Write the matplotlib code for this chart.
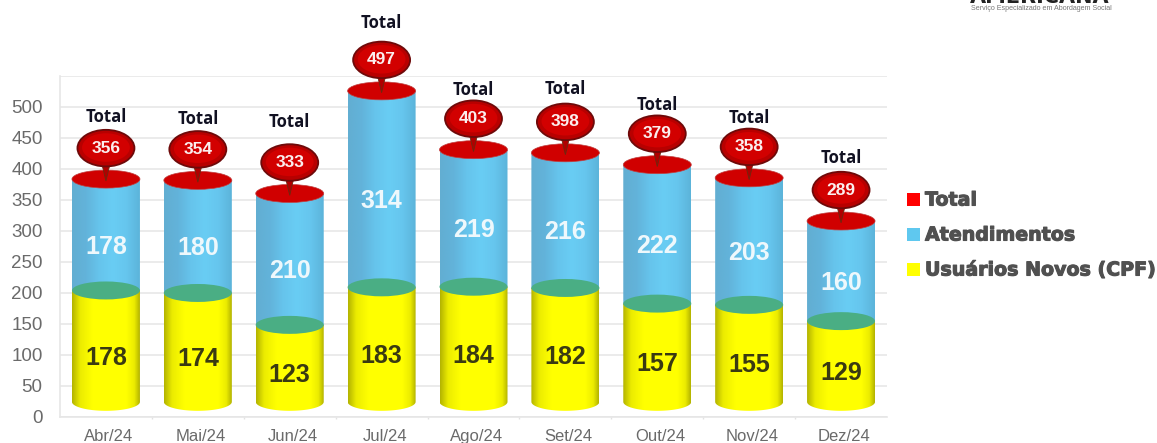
import matplotlib
matplotlib.use('Agg')
import matplotlib.pyplot as plt
import matplotlib.patheffects as pe
import numpy as np
from matplotlib.colors import LinearSegmentedColormap
from matplotlib.patches import Ellipse, Polygon, Rectangle
from matplotlib.transforms import ScaledTranslation

# values
meses = ['Abr/24', 'Mai/24', 'Jun/24', 'Jul/24', 'Ago/24', 'Set/24', 'Out/24', 'Nov/24', 'Dez/24']
usuarios_novos = [178, 174, 123, 183, 184, 182, 157, 155, 129]
atendimentos = [178, 180, 210, 314, 219, 216, 222, 203, 160]
totais = [356, 354, 333, 497, 403, 398, 379, 358, 289]
yticks = list(range(0, 501, 50))

# the 3D chart lifts its cylinders off the floor
base = 24
escala = 1.01
# gap between cylinder top and the word Total, varies in the original
gap_total = [101, 99, 116, 110, 97, 103, 97, 97, 102]

W, H = 1157, 443
fig = plt.figure(figsize=(W / 100, H / 100), dpi=100)
ax = fig.add_axes([60 / W, 1 - 416.7 / H, 827 / W, 340.7 / H])
ax.set_xlim(-0.5, 8.5)
ax.set_ylim(0, 550)
ax.set_facecolor('white')

for s in ['top', 'right']:
    ax.spines[s].set_visible(False)
for s in ['left', 'bottom']:
    ax.spines[s].set_color('#e6e6e6')
    ax.spines[s].set_linewidth(1.2)
ax.set_yticks(yticks + [550])
ax.set_yticklabels([str(v) for v in yticks] + [''])
ax.set_xticks(range(len(meses)))
ax.set_xticklabels(meses)
ax.tick_params(axis='y', length=0, labelsize=13.5, labelcolor='#6a6a6a', pad=12.5)
ax.tick_params(axis='x', length=0, labelsize=12, labelcolor='#6a6a6a', pad=9)
for lab in ax.get_xticklabels() + ax.get_yticklabels():
    lab.set_family('Liberation Sans')
# month labels sit a little right of the cylinders
for lab in ax.get_xticklabels():
    lab.set_transform(lab.get_transform() + ScaledTranslation(3 / 100, 0, fig.dpi_scale_trans))
ax.grid(axis='y', color='#e8e8e8', lw=1.2)
ax.set_axisbelow(True)
ax.vlines(np.arange(0.5, 8), -3, 0, color='#e2e2e2', lw=1, zorder=1, clip_on=False)

cmap_azul = LinearSegmentedColormap.from_list('azul', ['#62aed2', '#62b3da', '#66c4ec', '#69cdf4', '#66c6ee', '#5cb4da'])
cmap_amarelo = LinearSegmentedColormap.from_list(
    'am', [(0, '#b4b400'), (0.12, '#ecec00'), (0.3, '#ffff00'), (0.8, '#ffff00'), (0.92, '#ecec00'), (1, '#b4b400')])
grad = np.linspace(0, 1, 200).reshape(1, -1)

larg = 0.37   # half width of a cylinder, in categories
ry = 14.5     # half height of the end ellipses, in data units


def cilindro(x, y0, y1, cmap, z):
    # body = rectangle + bottom half ellipse, filled with a horizontal gradient
    t = np.linspace(np.pi, 2 * np.pi, 60)
    xs = np.r_[x + larg * np.cos(t), x + larg, x - larg]
    ys = np.r_[y0 + ry * np.sin(t), y1, y1]
    poly = Polygon(np.c_[xs, ys], closed=True, fc='none', ec='none', zorder=z)
    ax.add_patch(poly)
    im = ax.imshow(grad, cmap=cmap, extent=[x - larg, x + larg, y0 - ry, y1], aspect='auto', zorder=z)
    im.set_clip_path(poly)


for i, (nv, at, tot) in enumerate(zip(usuarios_novos, atendimentos, totais)):
    y_nv = base + nv * escala
    y_tot = base + tot * escala

    cilindro(i, y_nv, y_tot, cmap_azul, 3)
    cilindro(i, base, y_nv, cmap_amarelo, 4)
    ax.add_patch(Ellipse((i, y_nv), 2 * larg, 2 * ry, fc='#4aae84', ec='none', zorder=5))
    ax.add_patch(Ellipse((i, y_tot), 2 * larg, 2 * ry, fc='#d00000', ec='#c04040', lw=0.5, zorder=6))

    # callout balloon above the cylinder
    yc = y_tot + 50
    ax.add_patch(Polygon([(i - 0.05, yc - 22), (i + 0.05, yc - 22), (i, y_tot - 3)], closed=True,
                         fc='#b00000', ec='#6a2a10', lw=0.6, zorder=7))
    ax.add_patch(Ellipse((i, yc), 0.64, 62, fc='#6e0a0a', ec='none', zorder=8, clip_on=False))
    ax.add_patch(Ellipse((i, yc), 0.60, 56, fc='#b80000', ec='none', zorder=9, clip_on=False))
    ax.add_patch(Ellipse((i, yc + 1), 0.52, 46, fc='#d20000', ec='none', zorder=9, clip_on=False))
    ax.text(i, yc, str(tot), ha='center', va='center', color='#fbeeee', fontsize=12.5,
            fontweight='bold', family='Liberation Sans', zorder=10)
    ax.text(i, y_tot + gap_total[i], 'Total', ha='center', va='center', color='#111122', fontsize=12,
            fontweight='bold', family='Open Sans', zorder=10, clip_on=False)

    # segment values sit a bit below the middle of each segment
    ax.text(i, base + nv * escala / 2 - 19, str(nv), ha='center', va='center', color='#3a3a12', fontsize=18,
            fontweight='bold', family='Liberation Sans', zorder=10)
    ax.text(i, y_nv + at * escala / 2 - 19, str(at), ha='center', va='center', color='#eef8fc', fontsize=18,
            fontweight='bold', family='Liberation Sans', zorder=10)

ax.set_xlim(-0.5, 8.5)
ax.set_ylim(0, 550)

# legend built by hand so it sits like the original
legenda = [('Total', '#ff0000', 199), ('Atendimentos', '#5fc8ef', 234), ('Usuários Novos (CPF)', '#ffff00', 269)]
for nome, cor, py in legenda:
    fig.patches.append(Rectangle((907 / W, 1 - (py + 6.5) / H), 13 / W, 13 / H, transform=fig.transFigure,
                                 fc=cor, ec='none'))
    t = fig.text(925 / W, 1 - (py + 1) / H, nome, ha='left', va='center', color='#505050', fontsize=13.7,
                 fontweight='bold', family='DejaVu Sans')
    t.set_path_effects([pe.withStroke(linewidth=0.8, foreground='#505050')])

# logo cut by the top edge of the slide
fig.text(1040 / W, 1 + 3 / H, 'AMERICANA', ha='center', va='center', color='#222222', fontsize=15,
         fontweight='bold', family='DejaVu Sans')
fig.text(1041 / W, 1 - 9 / H, 'Serviço Especializado em Abordagem Social', ha='center', va='center',
         color='#777777', fontsize=5.1, family='Liberation Sans')

fig.savefig('out.png', dpi=100)
